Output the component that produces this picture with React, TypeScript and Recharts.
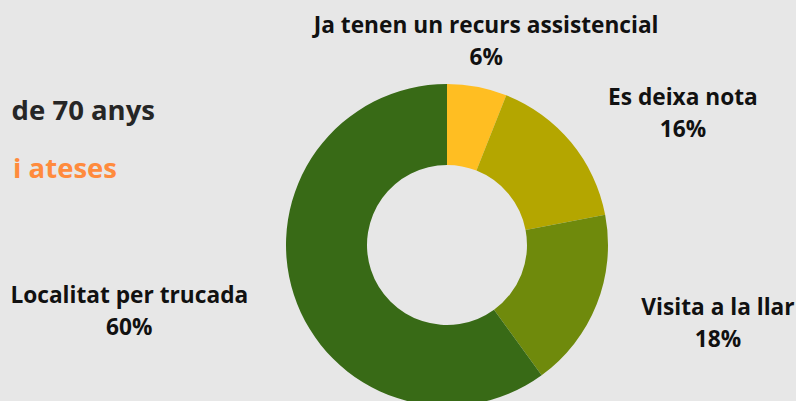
import React from "react";
import { PieChart, Pie, Cell } from "recharts";

const categories = [
  "Ja tenen un recurs assistencial",
  "Es deixa nota",
  "Visita a la llar",
  "Localitat per trucada",
];
const shares = [6, 16, 18, 60];
const colors = ["#FFBE22", "#B4A600", "#6F8A0C", "#386A16"];

const titleLines = ["de 70 anys", "i ateses"];

const data = categories.map((name, i) => ({ name, value: shares[i] }));

const FONT = "'Open Sans', 'Noto Sans', sans-serif";
const LABEL_SIZE = 22.7;

let ctx: CanvasRenderingContext2D | null = null;
function measure(text: string) {
  if (!ctx) ctx = document.createElement("canvas").getContext("2d");
  if (!ctx) return text.length * LABEL_SIZE * 0.55;
  ctx.font = `bold ${LABEL_SIZE}px 'Open Sans'`;
  return ctx.measureText(text).width;
}

const RAD = Math.PI / 180;

function renderLabel(props: any) {
  const { cx, cy, midAngle, outerRadius, name, value } = props;
  const r = outerRadius + 48;
  const cos = Math.cos(-midAngle * RAD);
  const sin = Math.sin(-midAngle * RAD);
  const x = cx + r * cos;
  const y = cy + r * sin;
  const w = measure(name);
  let mx = x;
  if (cos > 0.3) mx = x + w / 2;
  else if (cos < -0.3) mx = x - w / 2;
  return (
    <text
      x={mx}
      y={y}
      textAnchor="middle"
      fill="#111"
      fontFamily={FONT}
      fontWeight={700}
      fontSize={LABEL_SIZE}
    >
      <tspan x={mx} dy={-7}>{name}</tspan>
      <tspan x={mx} dy={32}>{`${value}%`}</tspan>
    </text>
  );
}

export default function App() {
  return (
    <div
      style={{
        position: "fixed",
        left: 0,
        top: 0,
        width: 796,
        height: 401,
        background: "#E7E7E7",
        overflow: "hidden",
      }}
    >
      <svg
        width={796}
        height={401}
        style={{ position: "absolute", left: 0, top: 0 }}
      >
        <text
          x={155}
          y={120}
          textAnchor="end"
          fontFamily={FONT}
          fontWeight={700}
          fontSize={27.5}
          fill="#262626"
        >
          {titleLines[0]}
        </text>
        <text
          x={117}
          y={178}
          textAnchor="end"
          fontFamily={FONT}
          fontWeight={700}
          fontSize={27.5}
          fill="#FF8B3D"
        >
          {titleLines[1]}
        </text>
      </svg>
      <div style={{ position: "absolute", left: 0, top: 0 }}>
        <PieChart
          width={796}
          height={401}
          margin={{ top: 0, right: 0, bottom: 0, left: 0 }}
        >
          <Pie
            data={data}
            dataKey="value"
            nameKey="name"
            cx={447}
            cy={245}
            innerRadius={80}
            outerRadius={161}
            startAngle={90}
            endAngle={-270}
            stroke="none"
            labelLine={false}
            label={renderLabel}
            isAnimationActive={false}
          >
            {data.map((d, i) => (
              <Cell key={d.name} fill={colors[i]} />
            ))}
          </Pie>
        </PieChart>
      </div>
    </div>
  );
}
